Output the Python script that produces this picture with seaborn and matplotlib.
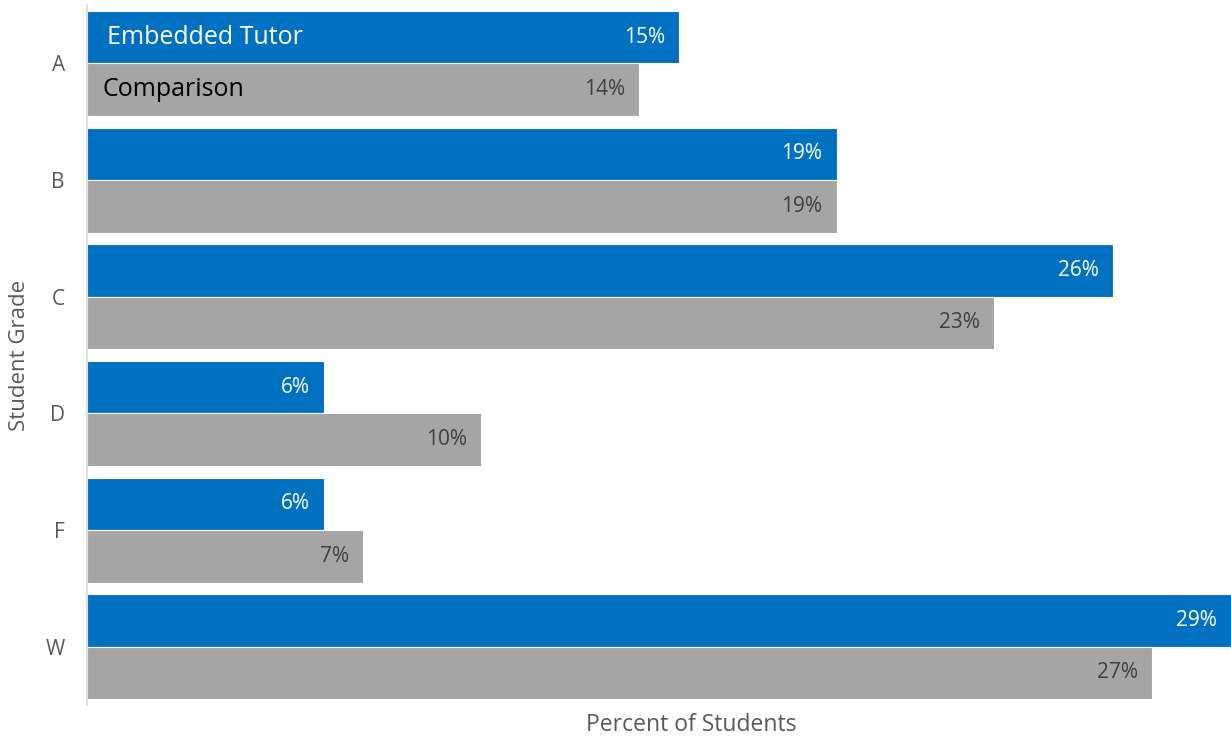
import matplotlib
matplotlib.use("Agg")
import matplotlib.pyplot as plt
import seaborn as sns
import pandas as pd

# Grade distribution, percent of students per group
grades = ["A", "B", "C", "D", "F", "W"]
embedded_tutor = [15, 19, 26, 6, 6, 29]
comparison = [14, 19, 23, 10, 7, 27]
groups = ["Embedded Tutor", "Comparison"]

df = pd.DataFrame({
    "Student Grade": grades * 2,
    "Percent of Students": embedded_tutor + comparison,
    "Group": [groups[0]] * len(grades) + [groups[1]] * len(grades),
})

sns.set_theme(style="white")
plt.rcParams["font.family"] = ["Open Sans", "DejaVu Sans"]

BLUE = "#0070C0"
GRAY = "#A5A5A5"

W, H = 1231, 737
fig = plt.figure(figsize=(W / 100, H / 100), dpi=100)
ax = fig.add_axes([87 / W, (H - 705) / H, (W - 87) / W, 700 / H])

sns.barplot(
    data=df, y="Student Grade", x="Percent of Students", hue="Group",
    order=grades, hue_order=groups, palette=[BLUE, GRAY], saturation=1,
    orient="h", width=0.9, edgecolor="white", linewidth=0.8,
    legend=False, ax=ax,
)

ax.set_xlim(0, 29)
ax.set_ylim(5.5, -0.5)

# value labels inside the bar ends
label_colors = ["white", "#404040"]
for container, color in zip(ax.containers, label_colors):
    for bar in container:
        val = bar.get_width()
        ax.annotate(f"{val:.0f}%", xy=(val, bar.get_y() + bar.get_height() / 2),
                    xytext=(-14, 0), textcoords="offset pixels",
                    ha="right", va="center", fontsize=15, color=color)

# series names written inside the first pair of bars
name_colors = ["white", "black"]
name_offsets = [20, 16]
for container, name, color, off in zip(ax.containers, groups, name_colors, name_offsets):
    bar = container[0]
    ax.annotate(name, xy=(0, bar.get_y() + bar.get_height() / 2),
                xytext=(off, 0), textcoords="offset pixels",
                ha="left", va="center", fontsize=18, color=color)

for side in ["top", "right", "bottom"]:
    ax.spines[side].set_visible(False)
ax.spines["left"].set_color("#D9D9D9")
ax.spines["left"].set_linewidth(1.2)

ax.set_xticks([])
ax.tick_params(axis="y", length=0, pad=16, labelsize=15, labelcolor="#595959")

ax.set_xlabel("Percent of Students", fontsize=16.5, color="#595959")
ax.xaxis.label.set_va("center")
ax.xaxis.set_label_coords(0.528, -0.028)
ax.set_ylabel("Student Grade", fontsize=16, color="#595959")
ax.yaxis.label.set_va("center")
ax.yaxis.set_label_coords(-0.0586, 0.5)

fig.savefig("out.png", dpi=100)
